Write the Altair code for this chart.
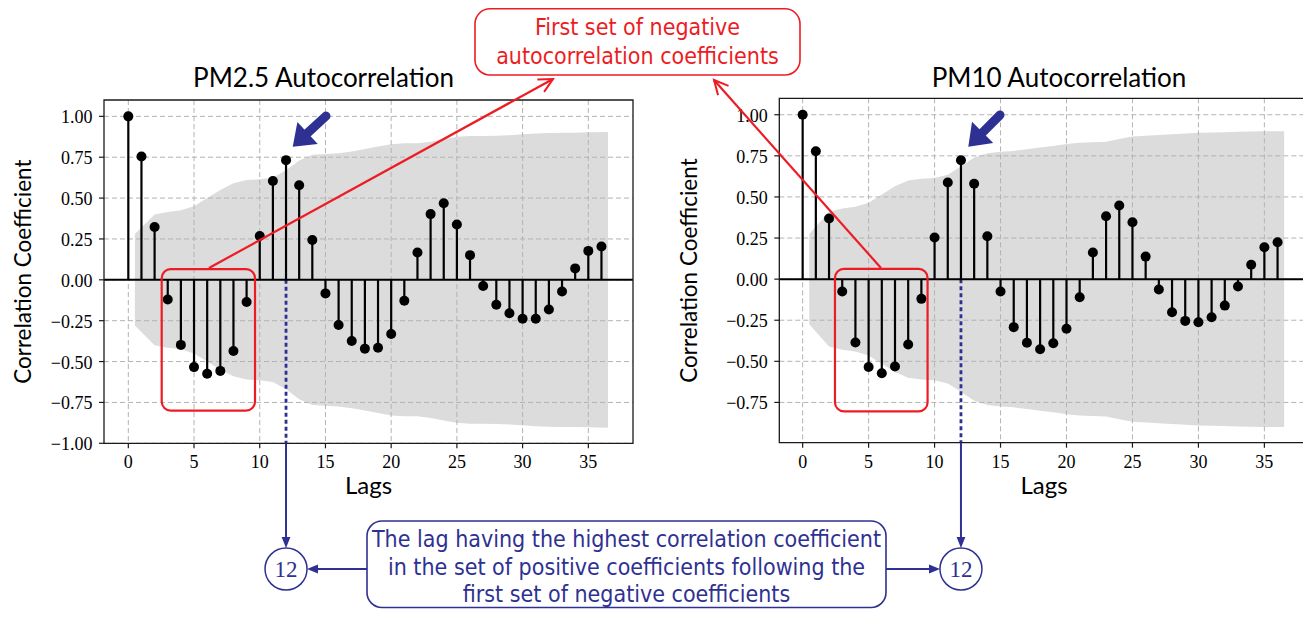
import math
import altair as alt
import pandas as pd

# ---------------- data ----------------
lags = list(range(37))
pm25_acf = [1.00, 0.754, 0.323, -0.120, -0.398, -0.534, -0.575, -0.557, -0.435, -0.136,
            0.268, 0.604, 0.732, 0.579, 0.244, -0.083, -0.276, -0.374, -0.421, -0.415,
            -0.331, -0.128, 0.167, 0.402, 0.468, 0.338, 0.151, -0.038, -0.152, -0.205,
            -0.238, -0.238, -0.181, -0.071, 0.070, 0.177, 0.204]
pm10_acf = [1.00, 0.778, 0.369, -0.075, -0.386, -0.534, -0.572, -0.532, -0.398, -0.120,
            0.253, 0.588, 0.723, 0.580, 0.261, -0.075, -0.292, -0.387, -0.426, -0.390,
            -0.302, -0.110, 0.162, 0.383, 0.448, 0.346, 0.137, -0.063, -0.201, -0.254,
            -0.262, -0.232, -0.161, -0.045, 0.087, 0.194, 0.224]
band_lags = [0.5] + list(range(2, 36)) + [36.5]
pm25_band = [0.28, 0.40, 0.415, 0.425, 0.45, 0.50, 0.55, 0.59, 0.61, 0.615,
             0.625, 0.67, 0.73, 0.765, 0.77, 0.775, 0.785, 0.80, 0.815, 0.83,
             0.835, 0.835, 0.845, 0.86, 0.875, 0.88, 0.88, 0.882, 0.885, 0.89,
             0.895, 0.898, 0.90, 0.90, 0.902, 0.905]
pm10_band = [0.275, 0.41, 0.43, 0.44, 0.465, 0.515, 0.565, 0.60, 0.61, 0.615,
             0.635, 0.685, 0.74, 0.765, 0.775, 0.78, 0.79, 0.80, 0.81, 0.822,
             0.83, 0.833, 0.835, 0.853, 0.867, 0.872, 0.877, 0.882, 0.886, 0.89,
             0.892, 0.894, 0.896, 0.898, 0.90, 0.90]
x_ticks = [0, 5, 10, 15, 20, 25, 30, 35]
y_ticks = [1.0, 0.75, 0.5, 0.25, 0.0, -0.25, -0.5, -0.75, -1.0]
y_tick_labels = ["1.00", "0.75", "0.50", "0.25", "0.00",
                 "\u22120.25", "\u22120.50", "\u22120.75", "\u22121.00"]
peak_lag = 12
pm25_box = [2.54, 9.64, 0.065, -0.80]
pm10_box = [2.45, 9.47, 0.062, -0.805]
titles = ["PM2.5 Autocorrelation", "PM10 Autocorrelation"]
y_title = "Correlation Coefficient"
x_title = "Lags"
note_top = ["First set of negative", "autocorrelation coefficients"]
note_bottom = ["The lag having the highest correlation coefficient",
               "in the set of positive coefficients following the",
               "first set of negative coefficients"]

# ---------------- style / layout ----------------
BLUE = "#2e3192"
RED = "#ed1c24"
GRID = "#b3b3b3"
BAND = "#dcdcdc"
INK = "#1a1a1a"
SERIF = "Liberation Serif"
SANS = "Lato"
NARROW = "Liberation Sans Narrow, DejaVu Sans Condensed, Lato"
W, H = 1295, 601

LEFT = dict(x0=96, x1=625, y0=435.3, y1=92, xd=[-1.85, 38.4], yd=[-1.0, 1.1], cx=315.5, ytx=15.5)
RIGHT = dict(x0=771.3, x1=1300.7, y0=434.7, y1=90.3, xd=[-1.77, 38.36], yd=[-0.995, 1.1], cx=1051, ytx=682)
CIRCLE_Y = 561
CIRCLE_R = 21


def one():
    return pd.DataFrame({"k": [0]})


def panel(acf, band, box, P, title):
    xs = alt.Scale(domain=P["xd"], range=[P["x0"], P["x1"]], nice=False, zero=False)
    ys = alt.Scale(domain=P["yd"], range=[P["y0"], P["y1"]], nice=False, zero=False)

    def X(f):
        return alt.X(f, type="quantitative", scale=xs, axis=None)

    def Y(f):
        return alt.Y(f, type="quantitative", scale=ys, axis=None)

    stems = pd.DataFrame({"lag": lags, "acf": acf, "zero": [0.0] * len(lags)})
    bdf = pd.DataFrame({"bx": band_lags, "hi": band, "lo": [-v for v in band]})
    xt = pd.DataFrame({"t": x_ticks, "lab": [str(v) for v in x_ticks]})
    yt = pd.DataFrame({"t": y_ticks, "lab": y_tick_labels})
    yt = yt[yt.t >= P["yd"][0] - 1e-9]
    pk = pd.DataFrame({"lag": [peak_lag], "zero": [0.0], "lab": [str(peak_lag)]})
    bx = pd.DataFrame({"x0": [box[0]], "x1": [box[1]], "y0": [box[2]], "y1": [box[3]]})

    layers = [
        alt.Chart(bdf).mark_area(color=BAND, opacity=1).encode(
            x=X("bx"), y=Y("lo"), y2=alt.Y2("hi")),
        alt.Chart(xt).mark_rule(color=GRID, strokeDash=[5, 3], strokeWidth=1).encode(
            x=X("t"), y=alt.value(P["y1"]), y2=alt.value(P["y0"])),
        alt.Chart(yt).mark_rule(color=GRID, strokeDash=[5, 3], strokeWidth=1).encode(
            y=Y("t"), x=alt.value(P["x0"]), x2=alt.value(P["x1"])),
        alt.Chart(pk).mark_rule(color=BLUE, strokeWidth=2.8, strokeDash=[4, 3]).encode(
            x=X("lag"), y=Y("zero"), y2=alt.value(P["y0"])),
        alt.Chart(stems).mark_rule(color="black", strokeWidth=2.2).encode(
            x=X("lag"), y=Y("acf"), y2=alt.Y2("zero")),
        alt.Chart(pk).mark_rule(color="black", strokeWidth=2).encode(
            y=Y("zero"), x=alt.value(P["x0"]), x2=alt.value(P["x1"])),
        alt.Chart(stems).mark_circle(color="black", size=100, opacity=1).encode(
            x=X("lag"), y=Y("acf")),
        alt.Chart(one()).mark_rect(filled=False, stroke=INK, strokeWidth=1.3).encode(
            x=alt.value(P["x0"]), x2=alt.value(P["x1"]), y=alt.value(P["y1"]), y2=alt.value(P["y0"])),
        alt.Chart(xt).mark_rule(color=INK, strokeWidth=1.2).encode(
            x=X("t"), y=alt.value(P["y0"]), y2=alt.value(P["y0"] + 5)),
        alt.Chart(yt).mark_rule(color=INK, strokeWidth=1.2).encode(
            y=Y("t"), x=alt.value(P["x0"] - 5), x2=alt.value(P["x0"])),
        alt.Chart(xt).mark_text(font=SERIF, fontSize=18, baseline="alphabetic", color="black").encode(
            x=X("t"), y=alt.value(P["y0"] + 25), text="lab:N"),
        alt.Chart(yt).mark_text(font=SERIF, fontSize=18, align="right", baseline="middle", dy=2,
                                color="black").encode(
            y=Y("t"), x=alt.value(P["x0"] - 11.5), text="lab:N"),
        alt.Chart(bx).mark_rect(filled=False, stroke=RED, strokeWidth=2.2, cornerRadius=9).encode(
            x=X("x0"), x2=alt.X2("x1"), y=Y("y0"), y2=alt.Y2("y1")),
        # blue pointer from the panel down to the circled lag
        alt.Chart(pk).mark_rule(color=BLUE, strokeWidth=2).encode(
            x=X("lag"), y=alt.value(P["y0"]), y2=alt.value(CIRCLE_Y - CIRCLE_R - 9)),
        alt.Chart(pk).mark_point(shape="M0,1L-0.8,-1L0.8,-1Z", filled=True, size=121,
                                 color=BLUE, opacity=1).encode(
            x=X("lag"), y=alt.value(CIRCLE_Y - CIRCLE_R - 5.5)),
        alt.Chart(pk).mark_point(shape="circle", filled=False, size=(2 * CIRCLE_R) ** 2,
                                 color=BLUE, strokeWidth=1.5, opacity=1).encode(
            x=X("lag"), y=alt.value(CIRCLE_Y)),
        alt.Chart(pk).mark_text(font=SERIF, fontSize=23, color=BLUE, baseline="middle").encode(
            x=X("lag"), y=alt.value(CIRCLE_Y + 1), text="lab:N"),
        # titles
        alt.Chart(one()).mark_text(font=SANS, fontSize=26, color="black", baseline="alphabetic").encode(
            x=alt.value(P["cx"]), y=alt.value(79), text=alt.value(title)),
        alt.Chart(one()).mark_text(font=SANS, fontSize=22.5, color="black", baseline="middle",
                                   angle=270).encode(
            x=alt.value(P["ytx"]), y=alt.value((P["y0"] + P["y1"]) / 2), text=alt.value(y_title)),
        alt.Chart(one()).mark_text(font=SANS, fontSize=24, color="black", baseline="middle").encode(
            x=alt.value((P["x0"] + P["x1"]) / 2), y=alt.value(479), text=alt.value(x_title)),
    ]
    return layers


def seg(p, q, color, width, cap="butt"):
    return alt.Chart(one()).mark_rule(color=color, strokeWidth=width, strokeCap=cap).encode(
        x=alt.value(p[0]), y=alt.value(p[1]), x2=alt.value(q[0]), y2=alt.value(q[1]))


def chevron(tail, tip, color, length=14):
    ang = math.degrees(math.atan2(tip[1] - tail[1], tip[0] - tail[0])) % 360
    return alt.Chart(one()).mark_point(shape="M-1,-0.5L0,0L-1,0.5", filled=False, size=(2 * length) ** 2,
                                       color=color, strokeWidth=2, opacity=1, angle=ang).encode(
        x=alt.value(tip[0]), y=alt.value(tip[1]))


def fat_arrow(tail, tip, color):
    dx, dy = tip[0] - tail[0], tip[1] - tail[1]
    L = math.hypot(dx, dy)
    ux, uy = dx / L, dy / L
    k = 15
    base = (tip[0] - 20 * ux, tip[1] - 20 * uy)
    origin = (tip[0] - k * ux, tip[1] - k * uy)
    ang = math.degrees(math.atan2(uy, ux)) % 360
    return [
        seg(tail, base, color, 9, "round"),
        alt.Chart(one()).mark_point(shape="M1,0L-0.35,-1L-0.35,1Z", filled=True, size=(2 * k) ** 2,
                                    color=color, opacity=1, angle=ang).encode(
            x=alt.value(origin[0]), y=alt.value(origin[1])),
    ]


def small_head(tip, direction, color):
    shape = "M-1,0L1,-0.8L1,0.8Z" if direction == "left" else "M1,0L-1,-0.8L-1,0.8Z"
    off = 5.5 if direction == "left" else -5.5
    return alt.Chart(one()).mark_point(shape=shape, filled=True, size=121, color=color, opacity=1).encode(
        x=alt.value(tip[0] + off), y=alt.value(tip[1]))


def rounded_box(x0, x1, y0, y1, color):
    return alt.Chart(one()).mark_rect(filled=False, stroke=color, strokeWidth=1.6, cornerRadius=15).encode(
        x=alt.value(x0), x2=alt.value(x1), y=alt.value(y0), y2=alt.value(y1))


def label(text, x, y, color, size=23, font=NARROW):
    return alt.Chart(one()).mark_text(font=font, fontSize=size, color=color, baseline="alphabetic").encode(
        x=alt.value(x), y=alt.value(y), text=alt.value(text))


layers = []
layers += panel(pm25_acf, pm25_band, pm25_box, LEFT, titles[0])
layers += panel(pm10_acf, pm10_band, pm10_box, RIGHT, titles[1])

# red callout (top)
layers.append(rounded_box(467, 792, 0.8, 67, RED))
layers.append(label(note_top[0], 629.5, 27, RED))
layers.append(label(note_top[1], 629.5, 56, RED))
red_a = ((201, 260), (545, 71))
red_b = ((873, 260), (706, 72))
for tail, tip in (red_a, red_b):
    layers.append(seg(tail, tip, RED, 2.2))
    layers.append(chevron(tail, tip, RED))

# blue fat arrows pointing at the lag-12 peaks
layers += fat_arrow((318, 108), (284.7, 138.7), BLUE)
layers += fat_arrow((992, 107), (960.3, 138.7), BLUE)

# blue callout (bottom)
layers.append(rounded_box(359, 878, 513, 599.5, BLUE))
for txt, yy in zip(note_bottom, (538.5, 566.5, 594)):
    layers.append(label(txt, 618.5, yy, BLUE))
layers.append(seg((359, CIRCLE_Y), (304, CIRCLE_Y), BLUE, 2))
layers.append(small_head((299, CIRCLE_Y), "left", BLUE))
layers.append(seg((878, CIRCLE_Y), (927, CIRCLE_Y), BLUE, 2))
layers.append(small_head((932, CIRCLE_Y), "right", BLUE))

chart = alt.layer(*layers).resolve_scale(x="independent", y="independent").properties(
    width=W, height=H, padding=0, autosize=alt.AutoSizeParams(type="none")
).configure_view(stroke=None)

chart.save("out.html", embed_options={"renderer": "svg", "actions": False})
